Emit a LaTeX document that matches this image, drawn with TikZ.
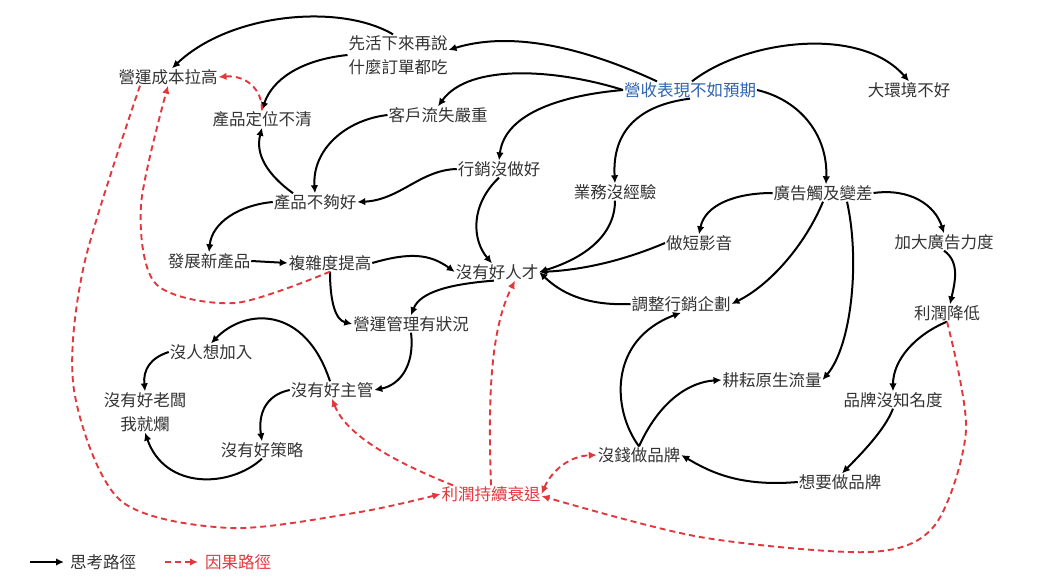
\documentclass[tikz,border=0pt]{standalone}
\usepackage{fontspec}
\setmainfont{Noto Sans CJK TC}
\usetikzlibrary{arrows.meta}
\definecolor{textgray}{HTML}{333333}
\definecolor{revblue}{HTML}{2E63B0}
\definecolor{causered}{HTML}{E0383C}
\tikzset{
  txt/.style={font=\fontsize{16.5}{24}\selectfont, text=textgray, inner sep=1pt, outer sep=0pt, align=center},
  think/.style={draw=black, line width=2pt, -{Latex[length=8pt,width=7.5pt]}},
  cause/.style={draw=causered, line width=1.9pt, dash pattern=on 6pt off 4pt, -{Latex[length=8pt,width=7.5pt]}},
}
\begin{document}
\begin{tikzpicture}[x=1pt,y=-1pt]
\useasboundingbox (0,0) rectangle (1052,583);
% nodes
\node[txt] (n_cost) at (168,77) {營運成本拉高};
\node[txt] (n_live) at (398,55) {先活下來再說\\什麼訂單都吃};
\node[txt] (n_pos) at (262,119) {產品定位不清};
\node[txt] (n_cust) at (438,115) {客戶流失嚴重};
\node[txt, text=revblue] (n_rev) at (690,90) {營收表現不如預期};
\node[txt] (n_env) at (909,90) {大環境不好};
\node[txt] (n_mkt) at (499,169) {行銷沒做好};
\node[txt] (n_biz) at (615,192) {業務沒經驗};
\node[txt] (n_ad) at (823,193) {廣告觸及變差};
\node[txt] (n_prod) at (315,202) {產品不夠好};
\node[txt] (n_short) at (699,243) {做短影音};
\node[txt] (n_more) at (944,242) {加大廣告力度};
\node[txt] (n_new) at (209,261) {發展新產品};
\node[txt] (n_cplx) at (330,263) {複雜度提高};
\node[txt] (n_tal) at (497,272) {沒有好人才};
\node[txt] (n_plan) at (681,304) {調整行銷企劃};
\node[txt] (n_prof) at (947,313) {利潤降低};
\node[txt] (n_ops) at (411,324) {營運管理有狀況};
\node[txt] (n_join) at (211,352) {沒人想加入};
\node[txt] (n_flow) at (772,380) {耕耘原生流量};
\node[txt] (n_boss) at (145,412) {沒有好老闆\\我就爛};
\node[txt] (n_mgr) at (332,390) {沒有好主管};
\node[txt] (n_brandk) at (893,400) {品牌沒知名度};
\node[txt] (n_strat) at (262,450) {沒有好策略};
\node[txt] (n_money) at (639,455) {沒錢做品牌};
\node[txt] (n_want) at (840,482) {想要做品牌};
\node[txt, text=causered] (n_decl) at (491,494) {利潤持續衰退};
% thinking paths
\draw[think] ([xshift=-5pt]n_live.north) .. controls (340,3) and (230,13) .. ([xshift=4pt]n_cost.north);
\draw[think] (n_live.west) .. controls (300,60) and (272,80) .. (n_pos.north);
\draw[think] ([xshift=-33pt]n_rev.north) .. controls (600,55) and (520,28) .. ([yshift=5pt]n_live.east);
\draw[think] (n_rev.west) .. controls (560,70) and (470,62) .. (n_cust.north);
\draw[think] (n_rev.west) .. controls (565,95) and (505,112) .. (n_mkt.north);
\draw[think] ([xshift=2pt]n_rev.north) .. controls (745,40) and (860,25) .. (n_env.north);
\draw[think] (n_rev.south) .. controls (640,105) and (612,130) .. (n_biz.north);
\draw[think] (n_rev.east) .. controls (800,100) and (828,135) .. ([xshift=3pt]n_ad.north);
\draw[think] (n_cust.west) .. controls (345,120) and (312,150) .. (n_prod.north);
\draw[think] ([xshift=-22pt]n_prod.north) .. controls (268,175) and (255,155) .. (n_pos.south);
\draw[think] (n_mkt.west) .. controls (420,170) and (400,200) .. (n_prod.east);
\draw[think] (n_mkt.south) .. controls (470,205) and (472,240) .. ([xshift=-5pt]n_tal.north);
\draw[think] (n_prod.west) .. controls (240,205) and (212,222) .. (n_new.north);
\draw[think] (n_new.east) -- (n_cplx.west);
\draw[think] (n_cplx.east) .. controls (410,252) and (430,254) .. (n_tal.west);
\draw[think] (n_cplx.south) .. controls (330,300) and (335,320) .. (n_ops.west);
\draw[think] ([xshift=-3pt]n_tal.south) .. controls (450,284) and (420,292) .. (n_ops.north);
\draw[think] (n_biz.south) .. controls (615,235) and (585,258) .. (n_tal.east);
\draw[think] (n_short.west) .. controls (620,262) and (580,270) .. (n_tal.east);
\draw[think] (n_plan.west) .. controls (585,306) and (560,292) .. (n_tal.east);
\draw[think] (n_ad.west) .. controls (735,193) and (705,205) .. (n_short.north);
\draw[think] (n_ad.south) .. controls (805,245) and (770,285) .. (n_plan.east);
\draw[think] ([xshift=24pt]n_ad.south) .. controls (860,260) and (852,345) .. (n_flow.east);
\draw[think] (n_ad.east) .. controls (910,188) and (935,205) .. (n_more.north);
\draw[think] (n_more.south) .. controls (960,262) and (955,282) .. ([xshift=3pt]n_prof.north);
\draw[think] (n_prof.south) .. controls (915,335) and (893,360) .. (n_brandk.north);
\draw[think] (n_brandk.south) .. controls (885,430) and (860,455) .. ([xshift=2pt]n_want.north);
\draw[think] (n_want.west) .. controls (740,487) and (710,472) .. (n_money.east);
\draw[think] (n_money.north) .. controls (612,410) and (608,340) .. (n_plan.south);
\draw[think] (n_money.north) .. controls (660,400) and (690,382) .. (n_flow.west);
\draw[think] (n_ops.south) .. controls (415,365) and (400,385) .. (n_mgr.east);
\draw[think] ([xshift=-2pt]n_mgr.north) .. controls (305,305) and (245,308) .. (n_join.north);
\draw[think] (n_mgr.west) .. controls (265,395) and (258,415) .. (n_strat.north);
\draw[think] (n_join.west) .. controls (150,358) and (143,370) .. (n_boss.north);
\draw[think] (n_strat.south) .. controls (230,488) and (165,490) .. (n_boss.south);
% causal paths
\draw[cause] (n_pos.north) .. controls (262,88) and (245,75) .. (n_cost.east);
\draw[cause] plot[smooth] coordinates {([xshift=-28pt]n_cost.south) (84,265) (74,390) (120,500) (230,528) (360,512) (n_decl.west)};
\draw[cause] plot[smooth] coordinates {(n_cplx.south) (235,303) (156,284) (141,205) (n_cost.south)};
\draw[cause] ([xshift=-38pt]n_decl.north) .. controls (410,468) and (348,440) .. (n_mgr.south);
\draw[cause] (n_decl.north) .. controls (488,400) and (490,330) .. ([xshift=18pt]n_tal.south);
\draw[cause, {Latex[length=8pt,width=7.5pt]}-{Latex[length=8pt,width=7.5pt]}] (n_decl.east) .. controls (552,470) and (570,456) .. (n_money.west);
\draw[cause] plot[smooth] coordinates {(n_prof.south) (966,430) (935,525) (870,552) (700,537) ([yshift=-2pt]n_decl.east)};
% legend
\coordinate (lg1) at (30,562);
\node[txt, anchor=west] (lt1) at (69,562) {思考路徑};
\draw[think] (lg1) -- ([xshift=-5pt]lt1.west);
\coordinate (lg2) at (165,562);
\node[txt, anchor=west, text=causered] (lt2) at (204,562) {因果路徑};
\draw[cause] (lg2) -- ([xshift=-6pt]lt2.west);
\end{tikzpicture}
\end{document}
